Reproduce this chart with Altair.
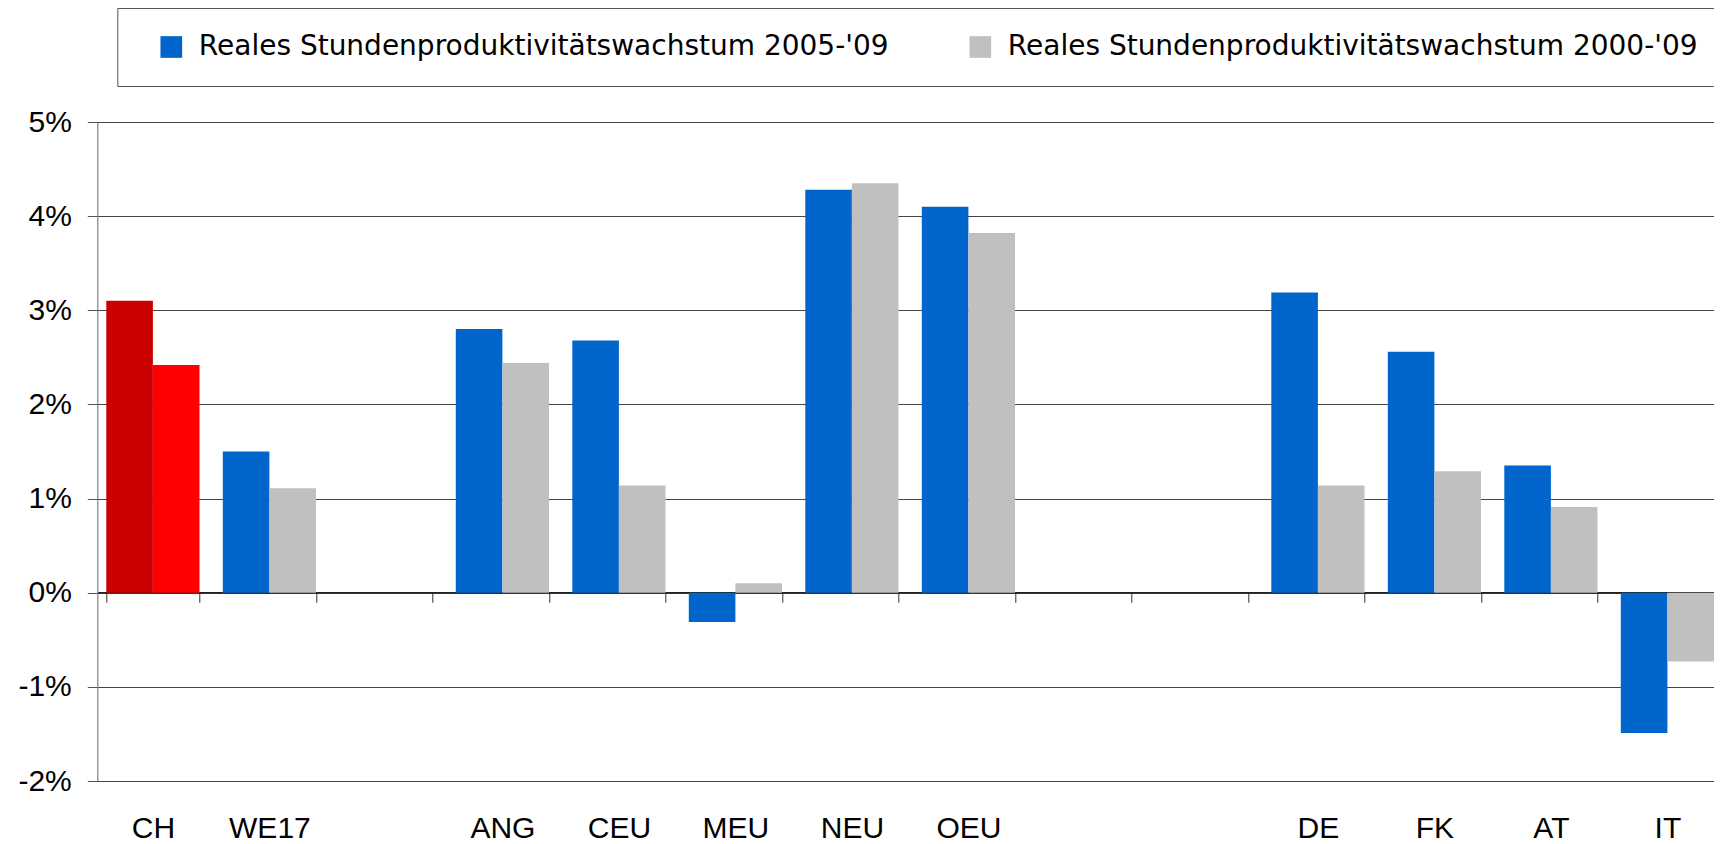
import altair as alt
import pandas as pd

# ---- data ----
slots = ["CH", "WE17", " ", "ANG", "CEU", "MEU", "NEU", "OEU", "  ", "   ", "DE", "FK", "AT", "IT"]
categories = ["CH", "WE17", "ANG", "CEU", "MEU", "NEU", "OEU", "DE", "FK", "AT", "IT"]
growth_0509 = [3.10, 1.50, 2.80, 2.68, -0.31, 4.28, 4.10, 3.19, 2.56, 1.35, -1.49]
growth_0009 = [2.42, 1.11, 2.44, 1.14, 0.10, 4.35, 3.82, 1.14, 1.29, 0.91, -0.73]
s1 = "Reales Stundenproduktivitätswachstum 2005-'09"
s2 = "Reales Stundenproduktivitätswachstum 2000-'09"
y_ticks = [-2, -1, 0, 1, 2, 3, 4, 5]

rows = []
for c, a, b in zip(categories, growth_0509, growth_0009):
    rows.append({"cat": c, "series": s1, "value": a, "key": ("CH 2005" if c == "CH" else s1)})
    rows.append({"cat": c, "series": s2, "value": b, "key": ("CH 2000" if c == "CH" else s2)})
df = pd.DataFrame(rows)

color_domain = [s1, s2, "CH 2005", "CH 2000"]
color_range = ["#0066CC", "#C0C0C0", "#CC0000", "#FF0000"]

chart = alt.Chart(df).mark_bar().encode(
    x=alt.X(
        "cat:N",
        sort=slots,
        scale=alt.Scale(domain=slots, paddingInner=0.2, paddingOuter=0.0386, align=1),
        axis=alt.Axis(
            title=None, orient="bottom", offset=-188.7, labelAngle=0,
            domain=True, domainColor="#222222", domainWidth=1.5,
            ticks=True, tickBand="extent", tickSize=10, tickColor="#333333", tickWidth=1,
            labelPadding=211, labelFontSize=30, labelFont="Liberation Sans, Arial",
            labelColor="#000000", grid=False,
        ),
    ),
    xOffset=alt.XOffset("series:N", sort=[s1, s2], scale=alt.Scale(paddingInner=0, paddingOuter=0)),
    y=alt.Y(
        "value:Q",
        scale=alt.Scale(domain=[-2, 5], nice=False, zero=False),
        axis=alt.Axis(
            title=None, values=y_ticks, labelExpr="datum.value + '%'",
            grid=True, gridColor="#444444", gridWidth=1,
            domain=True, domainColor="#777777", domainWidth=1,
            ticks=True, tickSize=10, tickColor="#555555",
            labelPadding=16, labelFontSize=30, labelFont="Liberation Sans, Arial",
            labelColor="#000000",
        ),
    ),
    color=alt.Color(
        "key:N",
        scale=alt.Scale(domain=color_domain, range=color_range),
        legend=alt.Legend(
            title=None, orient="none", legendX=20, legendY=-114, direction="horizontal",
            values=[s1, s2], symbolType="square", symbolSize=470, symbolStrokeWidth=0,
            labelFontSize=28, labelFont="DejaVu Sans", labelColor="#000000", labelLimit=2000,
            strokeColor="#555555", fillColor="#ffffff", padding=25,
            columnPadding=62, symbolOffset=15, labelOffset=13.5,
        ),
    ),
).properties(
    width=1616.7,
    height=659,
    autosize=alt.AutoSizeParams(type="none"),
    padding={"left": 89.3, "top": 114, "right": 0, "bottom": 66},
).configure_view(stroke=None).configure(background="#ffffff")

chart.save("out.html", embed_options={"renderer": "svg", "actions": False})
